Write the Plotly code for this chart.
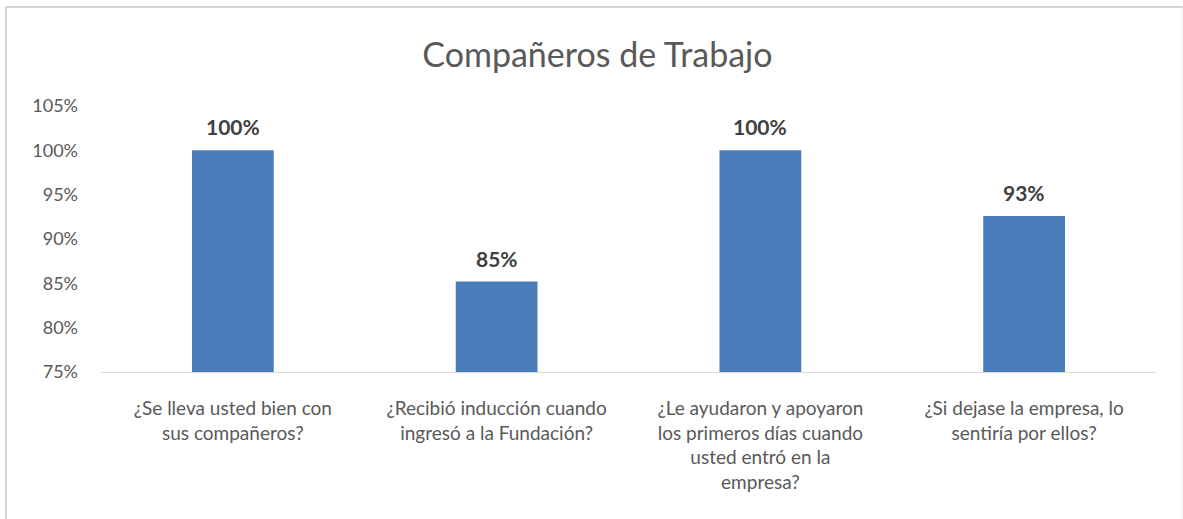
import plotly.graph_objects as go

# Survey results: share of positive answers per question
categories = [
    "¿Se lleva usted bien con<br>sus compañeros?",
    "¿Recibió inducción cuando<br>ingresó a la Fundación?",
    "¿Le ayudaron y apoyaron<br>los primeros días cuando<br>usted entró en la<br>empresa?",
    "¿Si dejase la empresa, lo<br>sentiría por ellos?",
]
values = [1.00, 0.852, 1.00, 0.926]
y_ticks = [0.75, 0.80, 0.85, 0.90, 0.95, 1.00, 1.05]

W, H = 1183, 519
L, R, T, B = 101, 27, 106, 147
pw, ph = W - L - R, H - T - B

FONT = "Lato"
GREY = "#595959"

fig = go.Figure(
    go.Bar(
        x=categories,
        y=values,
        marker=dict(color="#4a7ebb", line=dict(width=0)),
        hoverinfo="skip",
    )
)

# value labels above each bar
for c, v in zip(categories, values):
    fig.add_annotation(
        x=c, y=v, xref="x", yref="y",
        text=f"<b>{v:.0%}</b>",
        showarrow=False, yanchor="bottom", yshift=9,
        font=dict(family=FONT, size=21, color="#404040"),
    )

# light outer frame
def px_x(px):
    return (px - L) / pw

def px_y(py):
    return (H - B - py) / ph

frame = dict(type="line", xref="paper", yref="paper",
             line=dict(color="#d4d4d4", width=2), layer="above")
fig.add_shape(x0=px_x(6), x1=px_x(6), y0=px_y(H), y1=px_y(7), **frame)
fig.add_shape(x0=px_x(6), x1=px_x(W), y0=px_y(7), y1=px_y(7), **frame)
fig.add_shape(type="line", xref="paper", yref="paper",
              x0=px_x(1182), x1=px_x(1182), y0=px_y(H), y1=px_y(7),
              line=dict(color="#ececec", width=1), layer="above")

fig.update_layout(
    width=W, height=H,
    margin=dict(l=L, r=R, t=T, b=B),
    paper_bgcolor="white", plot_bgcolor="white",
    bargap=0.69,
    showlegend=False,
    title=dict(
        text="Compañeros de Trabajo",
        x=0.505, xanchor="center", y=1 - 55 / H, yanchor="middle",
        font=dict(family=FONT, size=34, color=GREY),
    ),
    font=dict(family=FONT, color=GREY),
)
fig.update_xaxes(
    showline=True, linecolor="#d9d9d9", linewidth=1,
    showgrid=False, ticks="", tickfont=dict(family=FONT, size=19, color=GREY),
    ticklabelstandoff=19,
)
fig.update_yaxes(
    range=[0.75, 1.05], tickvals=y_ticks, tickformat=".0%",
    showgrid=False, zeroline=False, showline=False, ticks="",
    tickfont=dict(family=FONT, size=18, color=GREY),
    ticklabelstandoff=22,
)

fig.write_html("out.html")
